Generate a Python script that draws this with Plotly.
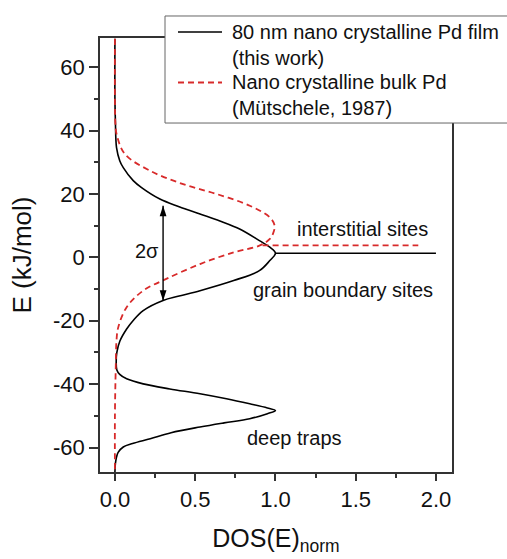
import plotly.graph_objects as go

# ---- data ----
film_dos = [0.0, 0.0, 0.003, 0.01, 0.03, 0.052, 0.114, 0.166, 0.28, 0.40, 0.53, 0.654, 0.78, 0.90, 0.965, 1.0,
            0.965, 0.90, 0.74, 0.53, 0.40, 0.30, 0.176, 0.114, 0.073, 0.031, 0.012, 0.008, 0.012, 0.03, 0.073,
            0.176, 0.342, 0.53, 0.695, 0.84, 0.95, 1.0, 0.95, 0.84, 0.68, 0.53, 0.35, 0.22, 0.11,
            0.052, 0.02, 0.01, 0.003, 0.0]
film_E = [69.0, 50.0, 43.0, 34.6, 30.5, 28.3, 24.2, 22.0, 18.4, 16.0, 13.7, 11.5, 8.9, 5.3, 3.2, 1.3,
          -1.0, -4.2, -7.3, -10.5, -12.2, -13.6, -16.8, -19.9, -22.6, -26.4, -30.0, -33.0, -35.5, -36.9, -38.3,
          -39.9, -41.5, -43.0, -44.6, -46.2, -47.5, -48.3, -49.3, -50.9, -52.2, -53.5, -55.3, -57.2, -58.7,
          -59.8, -61.5, -63.0, -65.0, -67.7]
film_line_dos = [1.0, 2.0]
film_line_E = [1.3, 1.3]

bulk_dos = [0.0, 0.0, 0.003, 0.01, 0.062, 0.22, 0.425, 0.633, 0.84, 0.965, 0.995, 0.985, 0.965, 0.90,
            0.74, 0.53, 0.32, 0.176, 0.073, 0.021, 0.01, 0.005, 0.0, 0.0]
bulk_E = [69.0, 50.0, 42.0, 38.9, 32.6, 27.3, 23.1, 20.0, 16.3, 12.6, 10.0, 7.5, 5.8, 3.7,
          1.6, -2.1, -6.8, -10.5, -15.7, -22.0, -26.0, -35.0, -50.0, -67.7]
bulk_line_dos = [0.92, 1.89]
bulk_line_E = [3.8, 3.8]

x_tickvals = [0.0, 0.5, 1.0, 1.5, 2.0]
x_ticktext = ["0.0", "0.5", "1.0", "1.5", "2.0"]
y_tickvals = [-60, -40, -20, 0, 20, 40, 60]
y_ticktext = ["-60", "-40", "-20", "0", "20", "40", "60"]

legend_labels = ["80 nm nano crystalline Pd film<br>(this work)",
                 "Nano crystalline bulk Pd<br>(Mütschele, 1987)"]

sigma_center = 1.3
sigma = 15.0
arrow_x = 0.3

FONT = "Arial, 'Liberation Sans', sans-serif"
RED = "#d82a2a"
BLACK_LINE = dict(color="black", width=1.6)
RED_LINE = dict(color=RED, width=1.8, dash="6px,4px")

fig = go.Figure()
fig.add_trace(go.Scatter(
    x=film_dos, y=film_E, mode="lines", name=legend_labels[0], showlegend=False,
    line=dict(**BLACK_LINE, shape="spline", smoothing=1.0)))
fig.add_trace(go.Scatter(
    x=film_line_dos, y=film_line_E, mode="lines", showlegend=False, line=BLACK_LINE))
fig.add_trace(go.Scatter(
    x=bulk_dos, y=bulk_E, mode="lines", name=legend_labels[1], showlegend=False,
    line=dict(**RED_LINE, shape="spline", smoothing=1.0)))
fig.add_trace(go.Scatter(
    x=bulk_line_dos, y=bulk_line_E, mode="lines", showlegend=False, line=RED_LINE))
# 2-sigma double arrow
fig.add_trace(go.Scatter(
    x=[arrow_x, arrow_x], y=[sigma_center + sigma, sigma_center - sigma], showlegend=False,
    mode="lines+markers", line=dict(color="black", width=1.4),
    marker=dict(symbol="arrow", size=11, angle=[0, 180], color="black", line=dict(width=0))))

axis_common = dict(showline=True, linecolor="#333", linewidth=1.5, mirror=True,
                   ticks="outside", tickcolor="#333", tickwidth=1.5,
                   showgrid=False, zeroline=False,
                   tickfont=dict(family=FONT, size=22, color="#111"))

fig.update_xaxes(range=[-0.093, 2.1], tickvals=x_tickvals, ticktext=x_ticktext, ticklen=7,
                 minor=dict(dtick=0.25, tick0=0, ticklen=4, ticks="outside", tickcolor="#333", tickwidth=1.5),
                 title=dict(text="DOS(E)<sub>norm</sub>", font=dict(family=FONT, size=25, color="#111"), standoff=18),
                 **axis_common)
fig.update_yaxes(range=[-67.7, 69.2], tickvals=y_tickvals, ticktext=y_ticktext, ticklen=9,
                 minor=dict(dtick=10, tick0=0, ticklen=4, ticks="outside", tickcolor="#333", tickwidth=1.5),
                 title=dict(text="E (kJ/mol)", font=dict(family=FONT, size=26, color="#111"), standoff=14),
                 **axis_common)

ann_font = dict(family=FONT, size=20, color="#111")
fig.add_annotation(x=1.544, y=9.0, text="interstitial sites", showarrow=False, font=ann_font)
fig.add_annotation(x=1.422, y=-10.4, text="grain boundary sites", showarrow=False, font=ann_font)
fig.add_annotation(x=1.121, y=-57.0, text="deep traps", showarrow=False, font=ann_font)
fig.add_annotation(x=0.197, y=2.0, text="2σ", showarrow=False, font=ann_font)

# ---- legend box (drawn in paper coordinates, extends past the right edge like the reference) ----
fig.add_shape(type="rect", xref="paper", yref="paper", x0=0.1847, x1=1.25, y0=0.8041, y1=1.0507,
              line=dict(color="#666", width=1), fillcolor="white", layer="above")
fig.add_shape(type="line", xref="paper", yref="paper", x0=0.2216, x1=0.3466, y0=1.0138, y1=1.0138,
              line=BLACK_LINE, layer="above")
fig.add_shape(type="line", xref="paper", yref="paper", x0=0.2216, x1=0.3466, y0=0.8975, y1=0.8975,
              line=RED_LINE, layer="above")
leg_font = dict(family=FONT, size=20, color="#111")
fig.add_annotation(xref="paper", yref="paper", x=0.3693, y=0.985, xanchor="left", yanchor="middle",
                   text=legend_labels[0], showarrow=False, font=leg_font, align="left")
fig.add_annotation(xref="paper", yref="paper", x=0.3693, y=0.8691, xanchor="left", yanchor="middle",
                   text=legend_labels[1], showarrow=False, font=leg_font, align="left")

fig.update_layout(
    width=507, height=559, autosize=False,
    margin=dict(l=100, r=55, t=38, b=87),
    paper_bgcolor="white", plot_bgcolor="white",
    font=dict(family=FONT, color="#111"),
    showlegend=False,
)

fig.write_html("out.html")
